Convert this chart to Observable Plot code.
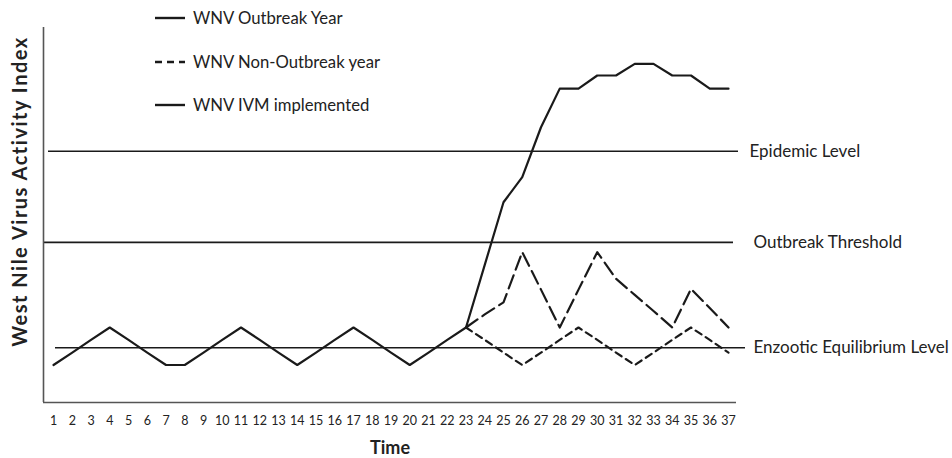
<!DOCTYPE html>
<html>
<head>
<meta charset="utf-8">
<script src="https://cdn.jsdelivr.net/npm/d3@7"></script>
<script src="https://cdn.jsdelivr.net/npm/@observablehq/plot@0.6"></script>
<style>
  html, body { margin: 0; padding: 0; background: #fff; }
  #chart svg { display: block; }
</style>
</head>
<body>
<div id="chart"></div>
<script>
// ---- Data ----
const time = [1,2,3,4,5,6,7,8,9,10,11,12,13,14,15,16,17,18,19,20,21,22,23,24,25,26,27,28,29,30,31,32,33,34,35,36,37];

const outbreakYear = [10,13.3,16.7,20,16.7,13.3,10,10,13.3,16.7,20,16.7,13.3,10,13.3,16.7,20,16.7,13.3,10,13.3,16.7,20,
                      36.7,53.4,60.1,73.4,83.7,83.7,87.2,87.2,90.3,90.3,87.2,87.2,83.7,83.7];

const nonOutbreakYear = [null,null,null,null,null,null,null,null,null,null,null,null,null,null,null,null,null,null,null,null,null,null,20,
                         16.7,13.3,10,13.3,16.7,20,16.7,13.3,10,13.3,16.7,20,16.7,13.3];

const ivmImplemented = [null,null,null,null,null,null,null,null,null,null,null,null,null,null,null,null,null,null,null,null,null,null,20,
                        23.5,26.7,40.1,30.1,20,30.1,40.1,33,28.7,24.4,20,30.3,25.2,20];

const levelNames  = ["Epidemic Level", "Outbreak Threshold", "Enzootic Equilibrium Level"];
const levelValues = [67, 42.7, 14.6];

const legendLabels = ["WNV Outbreak Year", "WNV Non-Outbreak year", "WNV IVM implemented"];

const xLabel = "Time";
const yLabel = "West Nile Virus Activity Index";

// ---- Build table ----
const rows = time.map((t, i) => ({
  t,
  outbreak: outbreakYear[i],
  nonOutbreak: nonOutbreakYear[i],
  ivm: ivmImplemented[i]
}));
const levels = levelNames.map((name, i) => ({ name, value: levelValues[i] }));

const FONT = "Lato, 'Open Sans', sans-serif";
const INK = "#1a1a1a";
const TXT = "#222";
const AXIS = "#555";

const W = 952, H = 458;
const mL = 43, mR = 216, mT = 27, mB = 56;
// x scale: ticks 1..37 with padding to the axis ends
const xDom = [1 - 10 / 18.75, 37 + 8 / 18.75];

// Legend drawn as a custom mark (pixel layout)
function legendMark() {
  const g = d3.create("svg:g").attr("font-family", FONT).attr("text-anchor", "start");
  const rowsY = [18, 62, 105];
  const dashes = [null, "7,5", null];
  legendLabels.forEach((label, i) => {
    g.append("line")
      .attr("x1", 155).attr("x2", 185)
      .attr("y1", rowsY[i]).attr("y2", rowsY[i])
      .attr("stroke", INK).attr("stroke-width", 2.4)
      .attr("stroke-dasharray", dashes[i]);
    g.append("text")
      .attr("x", 193).attr("y", rowsY[i])
      .attr("dy", "0.36em")
      .attr("font-size", 16.7)
      .attr("fill", TXT)
      .text(label);
  });
  return g.node();
}

const insets = [[5, -2], [0, 3], [12, -9]];
const labelDx = [13, 17, 17];

const plot = Plot.plot({
  width: W,
  height: H,
  marginLeft: mL,
  marginRight: mR,
  marginTop: mT,
  marginBottom: mB,
  style: { fontFamily: FONT, background: "#fff", color: TXT, overflow: "visible" },
  x: { domain: xDom, axis: null },
  y: { domain: [0, 100], axis: null },
  marks: [
    // level rules
    ...levels.map((lv, i) => Plot.ruleY([lv.value], {
      stroke: INK, strokeWidth: 1.6,
      insetLeft: insets[i][0], insetRight: insets[i][1]
    })),
    // level labels
    Plot.text(levels, {
      y: "value", text: "name", frameAnchor: "right",
      textAnchor: "start", fontSize: 17, fill: TXT,
      render(index, scales, values, dims, ctx, next) {
        const g = next(index, scales, values, dims, ctx);
        d3.select(g).selectAll("text").attr("dx", (d, j) => labelDx[index[j]]);
        return g;
      }
    }),
    // axes lines
    Plot.ruleY([0], { stroke: AXIS, strokeWidth: 1.6 }),
    Plot.ruleX([xDom[0]], { stroke: AXIS, strokeWidth: 1.6 }),
    // tick labels
    Plot.axisX(time, { ticks: time, tickSize: 0, tickPadding: 0, label: null, fontSize: 12.5, fill: TXT, dy: 13.5, tickFormat: d => d }),
    // series
    Plot.line(rows, { x: "t", y: "nonOutbreak", stroke: INK, strokeWidth: 2.2, strokeDasharray: "7,5" }),
    Plot.line(rows, { x: "t", y: "ivm", stroke: INK, strokeWidth: 2.2, strokeDasharray: "14,6" }),
    Plot.line(rows, { x: "t", y: "outbreak", stroke: INK, strokeWidth: 2.2 }),
    // axis titles
    Plot.text([xLabel], { frameAnchor: "bottom", dy: 51.5, fontSize: 18, fontWeight: "bold", fill: TXT }),
    Plot.text([yLabel], {
      frameAnchor: "left", rotate: -90, textAnchor: "middle", dx: -23, dy: -23.5,
      fontSize: 20, fontWeight: "bold", fill: TXT,
      render(index, scales, values, dims, ctx, next) {
        const g = next(index, scales, values, dims, ctx);
        d3.select(g).selectAll("text").attr("letter-spacing", 1.5);
        return g;
      }
    }),
    legendMark
  ]
});

document.getElementById("chart").appendChild(plot);
</script>
</body>
</html>
